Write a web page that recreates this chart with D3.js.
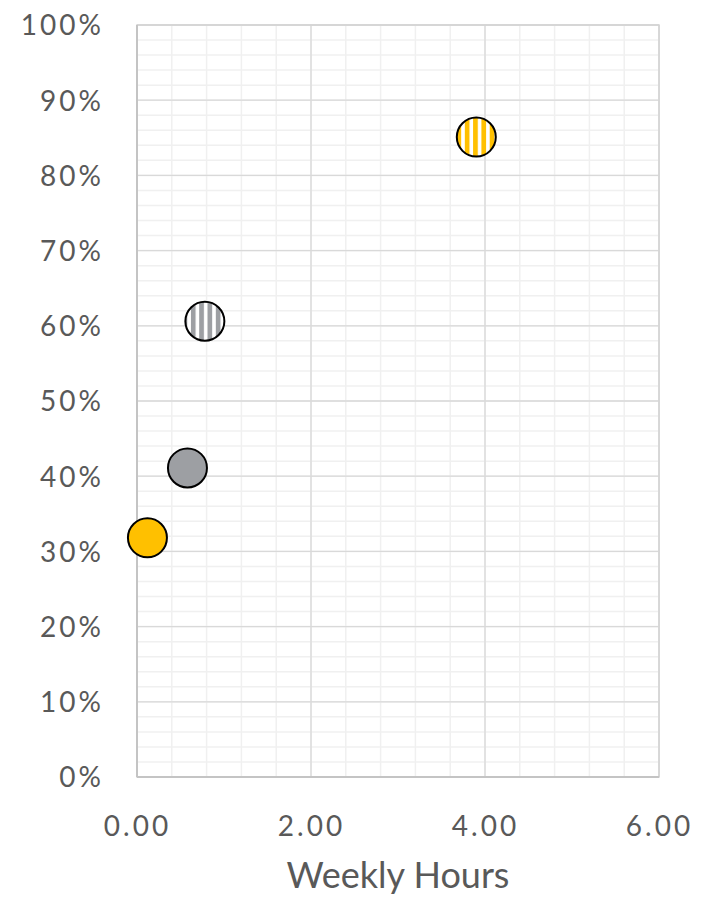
<!DOCTYPE html>
<html>
<head>
<meta charset="utf-8">
<script src="https://cdn.jsdelivr.net/npm/d3@7"></script>
<style>
  html, body { margin: 0; padding: 0; background: #fff; }
  svg { display: block; }
  text { font-family: Lato, "Open Sans", sans-serif; fill: #595959; }
</style>
</head>
<body>
<svg id="chart" width="717" height="901"></svg>
<script>
// ---- data ----
const seriesNames = ["Yellow solid", "Gray solid", "Gray striped", "Yellow striped"];
const hoursValues = [0.12, 0.58, 0.78, 3.90];
const shareValues = [0.318, 0.411, 0.606, 0.851];
const seriesFills = ["#FFC000", "#9D9FA3", "url(#stripeGray)", "url(#stripeYellow)"];
const xTickValues = [0, 2, 4, 6];
const yTickValues = [0, 0.1, 0.2, 0.3, 0.4, 0.5, 0.6, 0.7, 0.8, 0.9, 1.0];
const xTitle = "Weekly Hours";

// ---- layout ----
const svg = d3.select("#chart");
const pLeft = 137, pRight = 659, pTop = 25, pBottom = 777;
const x = d3.scaleLinear().domain([0, 6]).range([pLeft, pRight]);
const y = d3.scaleLinear().domain([0, 1]).range([pBottom, pTop]);

// patterns
const defs = svg.append("defs");
function stripe(id, color) {
  const p = defs.append("pattern").attr("id", id)
    .attr("patternUnits", "userSpaceOnUse").attr("width", 8.3).attr("height", 10);
  p.append("rect").attr("width", 8.3).attr("height", 10).attr("fill", "#fff");
  p.append("rect").attr("width", 4.7).attr("height", 10).attr("fill", color);
}
stripe("stripeYellow", "#FFC000");
stripe("stripeGray", "#9D9FA3");

// minor gridlines
const minorX = d3.range(0, 6.0001, 0.4);
const minorY = d3.range(0, 1.0001, 0.02);
const g = svg.append("g");
g.selectAll(".mx").data(minorX).join("line")
  .attr("x1", d => x(d)).attr("x2", d => x(d)).attr("y1", pTop).attr("y2", pBottom)
  .attr("stroke", "#f0f0f0").attr("stroke-width", 1.5);
g.selectAll(".my").data(minorY).join("line")
  .attr("y1", d => y(d)).attr("y2", d => y(d)).attr("x1", pLeft).attr("x2", pRight)
  .attr("stroke", "#f0f0f0").attr("stroke-width", 1.5);
// major gridlines
g.selectAll(".Mx").data(xTickValues).join("line")
  .attr("x1", d => x(d)).attr("x2", d => x(d)).attr("y1", pTop).attr("y2", pBottom)
  .attr("stroke", "#d9d9d9").attr("stroke-width", 1.3);
g.selectAll(".My").data(yTickValues).join("line")
  .attr("y1", d => y(d)).attr("y2", d => y(d)).attr("x1", pLeft).attr("x2", pRight)
  .attr("stroke", "#d9d9d9").attr("stroke-width", 1.3);
// borders
svg.append("rect").attr("x", pLeft).attr("y", pTop).attr("width", pRight - pLeft).attr("height", pBottom - pTop)
  .attr("fill", "none").attr("stroke", "#d4d4d4").attr("stroke-width", 1.5);
svg.append("line").attr("x1", pLeft).attr("x2", pLeft).attr("y1", pTop).attr("y2", pBottom)
  .attr("stroke", "#c4c4c4").attr("stroke-width", 2);
svg.append("line").attr("x1", pLeft).attr("x2", pRight).attr("y1", pBottom).attr("y2", pBottom)
  .attr("stroke", "#c4c4c4").attr("stroke-width", 2);

// axes (labels only)
const xAxis = d3.axisBottom(x).tickValues(xTickValues).tickFormat(d3.format(".2f")).tickSize(0).tickPadding(0);
const xg = svg.append("g").attr("transform", `translate(0,${pBottom})`).call(xAxis);
xg.select(".domain").remove();
xg.selectAll("text").attr("dy", null).attr("y", 59)
  .style("font-size", "28px").style("letter-spacing", "3px").attr("fill", "#595959")
  .style("font-family", "Lato, 'Open Sans', sans-serif");

const yAxis = d3.axisLeft(y).tickValues(yTickValues).tickFormat(d3.format(".0%")).tickSize(0).tickPadding(0);
const yg = svg.append("g").attr("transform", `translate(104,0)`).call(yAxis);
yg.select(".domain").remove();
yg.selectAll("text").attr("dy", "0.35em").attr("x", 0)
  .style("font-size", "28px").style("letter-spacing", "3px").attr("fill", "#595959")
  .style("font-family", "Lato, 'Open Sans', sans-serif");

svg.append("text").attr("x", (pLeft + pRight) / 2).attr("y", 888).attr("text-anchor", "middle")
  .style("font-size", "36px").text(xTitle);

// points
svg.append("g").selectAll("circle").data(hoursValues).join("circle")
  .attr("cx", (d) => x(d)).attr("cy", (d, i) => y(shareValues[i]))
  .attr("r", 19.5).attr("fill", (d, i) => seriesFills[i])
  .attr("stroke", "#000").attr("stroke-width", 2);
</script>
</body>
</html>
